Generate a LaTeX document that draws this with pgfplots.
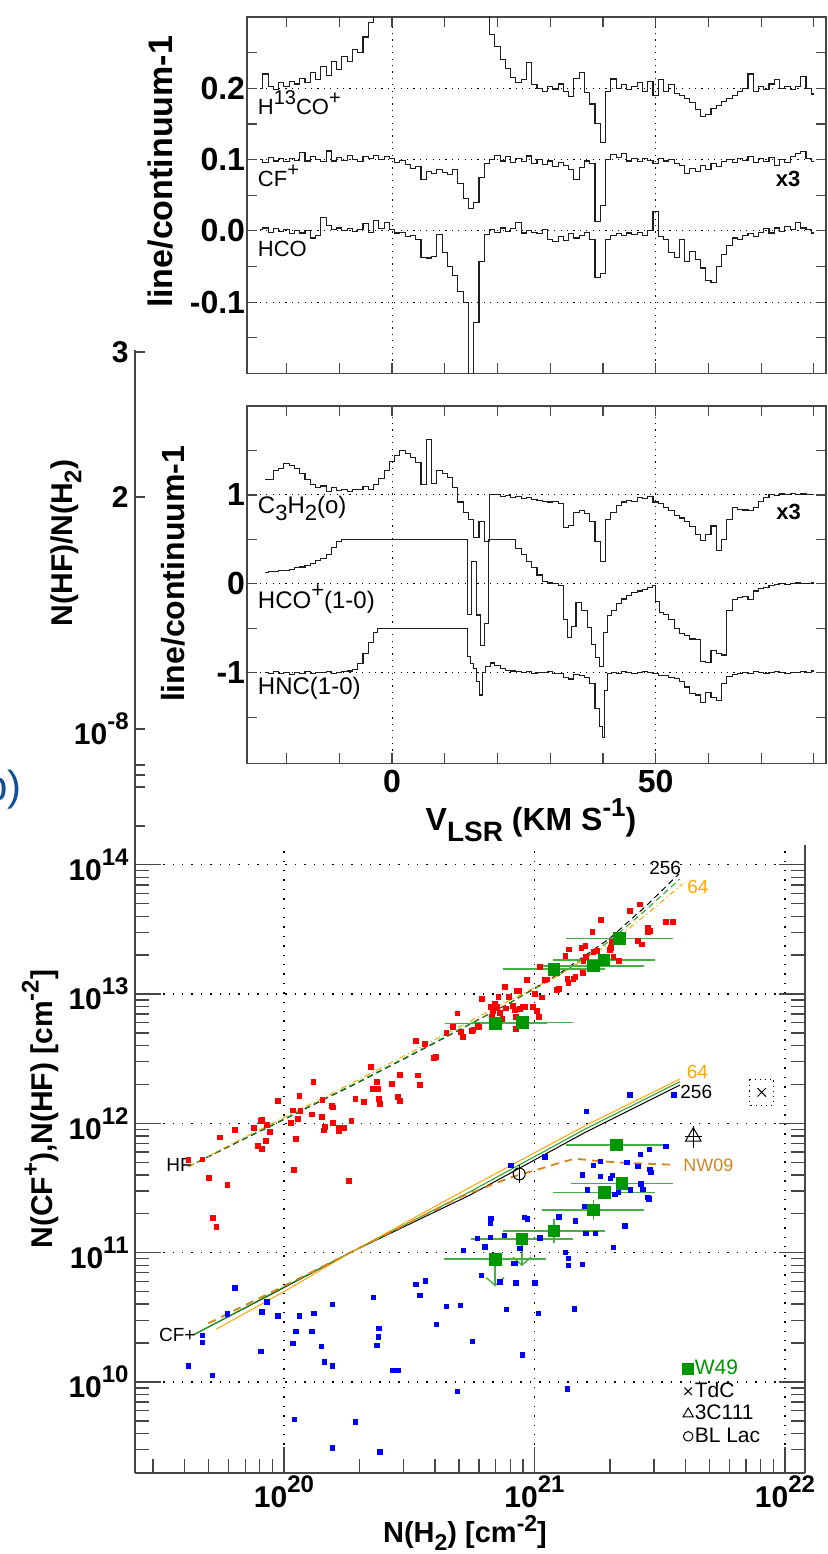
\documentclass[border=0pt]{standalone}
\usepackage{pgfplots}
\pgfplotsset{compat=1.18}
\usepackage{fontspec}
\setmainfont{Liberation Sans}
\usetikzlibrary{arrows.meta}
\definecolor{axgray}{RGB}{70,70,70}
\definecolor{specgray}{RGB}{30,30,30}
\definecolor{hfred}{RGB}{255,0,0}
\definecolor{cfblue}{RGB}{0,0,255}
\definecolor{wgreen}{RGB}{0,150,0}
\definecolor{wbar}{RGB}{70,175,70}
\definecolor{mgreen}{RGB}{30,160,30}
\definecolor{morange}{RGB}{255,165,0}
\definecolor{nwbrown}{RGB}{205,135,30}
\definecolor{bblue}{RGB}{20,80,150}
\newcommand{\fs}[1]{\fontsize{#1}{#1}\selectfont}
\newcommand{\tl}[1]{10\raisebox{0.5em}{\fs{12}#1}}
\pgfplotsset{spec/.style={
  scale only axis, width=289.5pt, xmin=-27.5, xmax=82.3,
  axis line style={axgray, line width=0.8pt},
  tick style={axgray, line width=0.6pt},
  tick align=inside, major tick length=5pt, minor tick length=5pt,
  xtick={0,50}, minor xtick={-20,-10,10,20,30,40,60,70,80},
  grid=major, major grid style={black, line width=0.5pt, dash pattern=on 0.6pt off 2.6pt},
  yticklabel style={font=\bfseries\fs{16}, inner sep=0.8pt},
  xticklabel style={font=\bfseries\fs{16}, inner sep=3pt},
}, sp/.style={const plot mark mid, no markers, specgray, line width=0.55pt}}
\begin{document}
\begin{tikzpicture}
\useasboundingbox (0,0) rectangle (414pt,777pt);
% ---------------- top spectra panel
\begin{axis}[spec, at={(123.5pt,590.25pt)}, anchor=south west, height=178.25pt,
  ymin=-0.2, ymax=0.3, ytick={-0.1,0,0.1,0.2}, yticklabels={-0.1,0.0,0.1,0.2},
  minor ytick={-0.15,-0.05,0.05,0.15,0.25}, xticklabels={}]
\addplot[sp] table[row sep=\\]{x y\\
-25 0.200\\ -24 0.220\\ -23 0.203\\ -22 0.198\\ -21 0.208\\ -20 0.202\\ -19 0.210\\ -18 0.206\\ -17 0.214\\ -16 0.208\\
-15 0.222\\ -14 0.212\\ -13 0.230\\ -12 0.218\\ -11 0.238\\ -10 0.226\\ -9 0.245\\ -8 0.238\\ -7 0.255\\ -6 0.250\\
-5 0.272\\ -4 0.292\\ -3 0.32\\ 18 0.32\\ 19 0.275\\ 20 0.258\\ 21 0.240\\ 22 0.228\\ 23 0.215\\ 24 0.208\\ 25 0.212\\
26 0.236\\ 27 0.205\\ 28 0.200\\ 29 0.196\\ 30 0.203\\ 31 0.199\\ 32 0.206\\ 33 0.195\\ 34 0.188\\ 35 0.214\\
36 0.222\\ 37 0.194\\ 38 0.178\\ 39 0.150\\ 40 0.124\\ 41 0.196\\ 42 0.213\\ 43 0.200\\ 44 0.205\\ 45 0.198\\
46 0.203\\ 47 0.208\\ 48 0.196\\ 49 0.210\\ 50 0.190\\ 51 0.212\\ 52 0.196\\ 53 0.205\\ 54 0.193\\ 55 0.190\\
56 0.186\\ 57 0.180\\ 58 0.170\\ 59 0.160\\ 60 0.163\\ 61 0.172\\ 62 0.176\\ 63 0.182\\ 64 0.186\\ 65 0.190\\
66 0.195\\ 67 0.200\\ 68 0.220\\ 69 0.196\\ 70 0.202\\ 71 0.198\\ 72 0.206\\ 73 0.212\\ 74 0.200\\ 75 0.203\\
76 0.198\\ 77 0.202\\ 78 0.216\\ 79 0.200\\ 80 0.192\\};
\addplot[sp] table[row sep=\\]{x y\\
-25 0.100\\ -24 0.096\\ -23 0.103\\ -22 0.098\\ -21 0.101\\ -20 0.097\\ -19 0.102\\ -18 0.099\\ -17 0.110\\ -16 0.098\\
-15 0.104\\ -14 0.100\\ -13 0.097\\ -12 0.112\\ -11 0.098\\ -10 0.103\\ -9 0.099\\ -8 0.106\\ -7 0.100\\ -6 0.097\\
-5 0.104\\ -4 0.101\\ -3 0.106\\ -2 0.100\\ -1 0.104\\ 0 0.101\\ 1 0.096\\ 2 0.099\\ 3 0.093\\ 4 0.088\\
5 0.090\\ 6 0.072\\ 7 0.083\\ 8 0.080\\ 9 0.086\\ 10 0.082\\ 11 0.079\\ 12 0.086\\ 13 0.066\\ 14 0.045\\
15 0.031\\ 16 0.040\\ 17 0.075\\ 18 0.094\\ 19 0.100\\ 20 0.106\\ 21 0.098\\ 22 0.104\\ 23 0.096\\ 24 0.102\\
25 0.097\\ 26 0.105\\ 27 0.095\\ 28 0.100\\ 29 0.093\\ 30 0.098\\ 31 0.090\\ 32 0.096\\ 33 0.092\\ 34 0.086\\
35 0.072\\ 36 0.089\\ 37 0.098\\ 38 0.094\\ 39 0.013\\ 40 0.036\\ 41 0.100\\ 42 0.107\\ 43 0.103\\ 44 0.109\\
45 0.098\\ 46 0.102\\ 47 0.097\\ 48 0.101\\ 49 0.099\\ 50 0.095\\ 51 0.102\\ 52 0.098\\ 53 0.100\\ 54 0.095\\
55 0.092\\ 56 0.081\\ 57 0.088\\ 58 0.083\\ 59 0.092\\ 60 0.086\\ 61 0.094\\ 62 0.090\\ 63 0.097\\ 64 0.100\\
65 0.096\\ 66 0.102\\ 67 0.099\\ 68 0.104\\ 69 0.096\\ 70 0.101\\ 71 0.097\\ 72 0.103\\ 73 0.092\\ 74 0.100\\
75 0.096\\ 76 0.104\\ 77 0.108\\ 78 0.111\\ 79 0.102\\ 80 0.097\\};
\addplot[sp] table[row sep=\\]{x y\\
-25 0.002\\ -24 0.004\\ -23 -0.002\\ -22 0.003\\ -21 -0.001\\ -20 0.002\\ -19 -0.004\\ -18 0.001\\ -17 -0.003\\ -16 0.000\\
-15 -0.010\\ -14 -0.006\\ -13 0.019\\ -12 0.008\\ -11 0.002\\ -10 0.004\\ -9 0.000\\ -8 0.003\\ -7 -0.001\\ -6 0.002\\
-5 0.010\\ -4 -0.002\\ -3 0.014\\ -2 0.003\\ -1 0.012\\ 0 0.002\\ 1 -0.003\\ 2 -0.002\\ 3 -0.008\\ 4 -0.006\\
5 -0.012\\ 6 -0.037\\ 7 -0.038\\ 8 -0.036\\ 9 -0.005\\ 10 -0.030\\ 11 -0.050\\ 12 -0.062\\ 13 -0.085\\ 14 -0.100\\
15 -0.25\\ 16 -0.128\\ 17 -0.043\\ 18 -0.005\\ 19 0.002\\ 20 -0.002\\ 21 0.004\\ 22 -0.001\\ 23 0.003\\ 24 0.012\\
25 -0.003\\ 26 0.001\\ 27 -0.002\\ 28 -0.004\\ 29 0.002\\ 30 -0.012\\ 31 -0.015\\ 32 -0.008\\ 33 -0.014\\ 34 -0.004\\
35 -0.010\\ 36 -0.006\\ 37 -0.002\\ 38 -0.012\\ 39 -0.066\\ 40 -0.060\\ 41 -0.012\\ 42 -0.006\\ 43 -0.004\\ 44 -0.007\\
45 -0.003\\ 46 -0.005\\ 47 -0.002\\ 48 -0.006\\ 49 0.000\\ 50 0.027\\ 51 -0.008\\ 52 -0.012\\ 53 -0.030\\ 54 -0.037\\
55 -0.012\\ 56 -0.043\\ 57 -0.029\\ 58 -0.040\\ 59 -0.052\\ 60 -0.070\\ 61 -0.072\\ 62 -0.050\\ 63 -0.033\\ 64 -0.020\\
65 -0.010\\ 66 -0.012\\ 67 -0.006\\ 68 -0.004\\ 69 -0.008\\ 70 -0.002\\ 71 0.003\\ 72 -0.003\\ 73 0.004\\ 74 -0.001\\
75 0.006\\ 76 0.002\\ 77 0.012\\ 78 0.004\\ 79 0.002\\ 80 -0.003\\};
\node[anchor=west, font=\fs{11}, inner sep=0pt] at (axis cs:-25.5,0.180) {H\raisebox{0.45em}{\fs{10}13}CO\raisebox{0.45em}{\fs{10}+}};
\node[anchor=west, font=\fs{11}, inner sep=0pt] at (axis cs:-25.5,0.077) {CF\raisebox{0.45em}{\fs{10}+}};
\node[anchor=west, font=\fs{11}, inner sep=0pt] at (axis cs:-25.5,-0.025) {HCO};
\node[font=\bfseries\fs{11}] at (axis cs:75.1,0.073) {x3};
\end{axis}
% ---------------- lower spectra panel
\begin{axis}[spec, at={(123.5pt,395.25pt)}, anchor=south west, height=178.75pt,
  ymin=-2.02, ymax=2.0, ytick={-1,0,1}, yticklabels={-1,0,1},
  minor ytick={-1.5,-0.5,0.5,1.5}, xticklabels={0,50}]
\addplot[sp] table[row sep=\\]{x y\\
-24 1.17\\ -23 1.17\\ -22 1.27\\ -21 1.30\\ -20 1.35\\ -19 1.33\\ -18 1.30\\ -17 1.24\\ -16 1.17\\ -15 1.12\\
-14 1.08\\ -13 1.10\\ -12 1.04\\ -11 1.08\\ -10 1.05\\ -9 1.06\\ -8 1.04\\ -7 1.06\\ -6 1.06\\ -5 1.09\\
-4 1.06\\ -3 1.12\\ -2 1.18\\ -1 1.27\\ 0 1.38\\ 1 1.44\\ 2 1.50\\ 3 1.47\\ 4 1.42\\ 5 1.36\\
6 1.12\\ 7 1.62\\ 8 1.13\\ 9 1.27\\ 10 1.24\\ 11 1.20\\ 12 1.08\\ 13 0.92\\ 14 0.80\\ 15 0.72\\
16 0.52\\ 17 0.70\\ 18 0.48\\ 19 1.00\\ 20 1.00\\ 21 0.98\\ 22 0.99\\ 23 0.97\\ 24 0.98\\ 25 0.96\\
26 0.97\\ 27 0.95\\ 28 0.94\\ 29 0.93\\ 30 0.92\\ 31 0.93\\ 32 0.90\\ 33 0.63\\ 34 0.66\\ 35 0.80\\
36 0.82\\ 37 0.79\\ 38 0.70\\ 39 0.48\\ 40 0.25\\ 41 0.72\\ 42 0.80\\ 43 0.88\\ 44 0.92\\ 45 0.94\\
46 0.93\\ 47 0.97\\ 48 0.96\\ 49 0.98\\ 50 0.92\\ 51 0.90\\ 52 0.86\\ 53 0.82\\ 54 0.77\\ 55 0.74\\
56 0.70\\ 57 0.64\\ 58 0.55\\ 59 0.49\\ 60 0.55\\ 61 0.65\\ 62 0.37\\ 63 0.50\\ 64 0.72\\ 65 0.86\\
66 0.84\\ 67 0.83\\ 68 0.82\\ 69 0.86\\ 70 0.93\\ 71 0.97\\ 72 1.00\\ 73 0.99\\ 74 1.01\\ 75 1.00\\
76 1.02\\ 77 1.00\\ 78 1.01\\ 79 1.00\\ 80 1.00\\};
\addplot[sp] table[row sep=\\]{x y\\
-24 0.13\\ -23 0.135\\ -22 0.14\\ -21 0.15\\ -20 0.155\\ -19 0.165\\ -18 0.18\\ -17 0.19\\ -16 0.21\\ -15 0.23\\
-14 0.26\\ -13 0.29\\ -12 0.33\\ -11 0.41\\ -10 0.48\\ -9 0.5\\ 14 0.5\\ 14.7 -0.34\\ 15.6 0.25\\ 16.3 -0.35\\
17.2 -0.69\\ 18 -0.45\\ 18.7 0.5\\ 23 0.5\\ 24 0.40\\ 25 0.33\\ 26 0.25\\ 27 0.18\\ 28 0.10\\ 29 0.03\\
30 0.01\\ 31 0.0\\ 32 -0.02\\ 33 -0.40\\ 33.7 -0.60\\ 34.3 -0.48\\ 35.5 -0.21\\ 36.5 -0.30\\ 37.5 -0.49\\ 38.3 -0.68\\
39 -0.83\\ 39.7 -0.93\\ 40.5 -0.55\\ 41.3 -0.36\\ 42 -0.30\\ 43 -0.22\\ 44 -0.17\\ 45 -0.13\\ 46 -0.10\\ 47 -0.08\\
48 -0.06\\ 49 -0.04\\ 49.7 -0.02\\ 50.3 -0.20\\ 51 -0.32\\ 52 -0.34\\ 53 -0.40\\ 54 -0.50\\ 55 -0.56\\ 56 -0.58\\
57 -0.62\\ 58 -0.63\\ 59 -0.87\\ 60 -0.88\\ 61 -0.75\\ 62 -0.78\\ 63 -0.80\\ 64 -0.30\\ 65 -0.18\\ 66 -0.15\\
67 -0.14\\ 68 -0.18\\ 69 -0.08\\ 70 -0.05\\ 71 -0.04\\ 72 -0.02\\ 73 -0.01\\ 74 0.0\\ 75 -0.01\\ 76 0.0\\
77 0.01\\ 78 0.0\\ 79 0.0\\ 80 0.01\\};
\addplot[sp] table[row sep=\\]{x y\\
-24 -1.00\\ -23 -1.01\\ -22 -0.99\\ -21 -1.01\\ -20 -1.00\\ -19 -1.02\\ -18 -1.00\\ -17 -1.01\\ -16 -0.99\\ -15 -1.01\\
-14 -1.00\\ -13 -1.00\\ -12 -0.99\\ -11 -1.01\\ -10 -1.00\\ -9 -0.99\\ -8 -0.98\\ -7 -0.96\\ -6 -0.90\\ -5 -0.78\\
-4 -0.66\\ -3 -0.55\\ -2.5 -0.5\\ 14 -0.5\\ 14.6 -0.82\\ 15.2 -0.90\\ 15.8 -0.95\\ 16.3 -1.10\\ 16.8 -1.25\\ 17.4 -1.00\\
18.2 -0.93\\ 19 -0.89\\ 20 -0.92\\ 21 -0.95\\ 22 -0.97\\ 23 -0.98\\ 24 -0.99\\ 25 -1.00\\ 26 -0.99\\ 27 -1.01\\
28 -1.00\\ 29 -1.00\\ 30 -0.99\\ 31 -1.01\\ 32 -1.01\\ 33 -1.05\\ 34 -1.07\\ 35 -1.02\\ 36 -1.03\\ 37 -1.05\\
38 -1.12\\ 39 -1.40\\ 39.6 -1.60\\ 40.1 -1.73\\ 40.6 -1.20\\ 41.2 -1.01\\ 42 -1.00\\ 43 -1.01\\ 44 -0.99\\ 45 -1.00\\
46 -1.01\\ 47 -1.00\\ 48 -0.99\\ 49 -1.00\\ 50 -1.01\\ 51 -1.03\\ 52 -1.03\\ 53 -1.05\\ 54 -1.06\\ 55 -1.10\\
56 -1.16\\ 57 -1.23\\ 58 -1.25\\ 59 -1.33\\ 60 -1.22\\ 61 -1.28\\ 62 -1.31\\ 63 -1.12\\ 64 -1.04\\ 65 -1.02\\
66 -1.01\\ 67 -1.00\\ 68 -1.01\\ 69 -0.99\\ 70 -1.00\\ 71 -1.01\\ 72 -1.00\\ 73 -0.99\\ 74 -1.00\\ 75 -1.01\\
76 -1.00\\ 77 -1.00\\ 78 -0.99\\ 79 -1.00\\ 80 -0.98\\};
\node[anchor=west, font=\fs{12}, inner sep=0pt] at (axis cs:-25.5,0.85) {C\raisebox{-0.3em}{\fs{11}3}H\raisebox{-0.3em}{\fs{11}2}(o)};
\node[anchor=west, font=\fs{12}, inner sep=0pt] at (axis cs:-25.5,-0.17) {HCO\raisebox{0.45em}{\fs{11}+}(1-0)};
\node[anchor=west, font=\fs{12}, inner sep=0pt] at (axis cs:-25.5,-1.17) {HNC(1-0)};
\node[font=\bfseries\fs{11}] at (axis cs:75.2,0.81) {x3};
\end{axis}
% ---------------- phantom axis of an underlying figure
\begin{axis}[at={(67.5pt,354.5pt)}, anchor=south west, scale only axis, width=10pt, height=247.5pt,
  xmin=0, xmax=1, ymin=350, ymax=845, y dir=reverse,
  axis x line=none, axis y line=left, axis line style={-, axgray, line width=0.8pt},
  tick style={axgray, line width=0.6pt}, tick align=inside, major tick length=5pt,
  ytick={352,497,729,765,775,787,826}, yticklabels={3,2,\tl{-8},,,,},
  yticklabel style={font=\bfseries\fs{15}, inner sep=3pt}]
\end{axis}
\node[rotate=90, font=\bfseries\fs{17}] at (80.5pt,691pt) {line/continuum-1};
\node[rotate=90, font=\bfseries\fs{16}] at (86.5pt,490pt) {line/continuum-1};
\node[rotate=90, font=\bfseries\fs{15}] at (33pt,505.5pt) {N(HF)/N(H\raisebox{-0.3em}{\fs{12}2})};
\node[anchor=east, font=\fs{21}, text=bblue, inner sep=0pt] at (11pt,382pt) {b)};
\node[font=\bfseries\fs{16}] at (265.5pt,367pt) {V\raisebox{-0.35em}{\fs{14}LSR} (KM S\raisebox{0.45em}{\fs{13}-1})};
\node[rotate=90, font=\bfseries\fs{15}] at (20pt,222.5pt) {N(CF\raisebox{0.45em}{\fs{12}+}),N(HF) [cm\raisebox{0.45em}{\fs{12}-2}]};
\node[font=\bfseries\fs{14.5}, inner sep=0pt] at (232.5pt,10.5pt) {N(H\raisebox{-0.25em}{\fs{11.5}2}) [cm\raisebox{0.38em}{\fs{11.5}-2}]};
% ---------------- bottom log-log panel (log10 values on linear axes)
\begin{axis}[at={(67.5pt,40.5pt)}, anchor=south west, scale only axis,
  width=335pt, height=314pt,
  xmin=19.405, xmax=22.08, ymin=9.296, ymax=14.153,
  axis x line*=bottom, axis y line*=box,
  axis line style={-, axgray, line width=0.8pt},
  tick style={axgray, line width=0.7pt}, tick align=inside,
  major tick length=13pt, minor tick length=7pt,
  xtick={20,21,22}, xticklabels={\tl{20},\tl{21},\tl{22}},
  minor xtick={19.477,19.602,19.699,19.778,19.845,19.903,19.954,20.301,20.477,20.602,20.699,20.778,20.845,20.903,20.954,21.301,21.477,21.602,21.699,21.778,21.845,21.903,21.954},
  ytick={10,11,12,13,14}, yticklabels={\tl{10},\tl{11},\tl{12},\tl{13},\tl{14}},
  minor ytick={9.301,9.477,9.602,9.699,9.778,9.845,9.903,9.954,10.301,10.477,10.602,10.699,10.778,10.845,10.903,10.954,11.301,11.477,11.602,11.699,11.778,11.845,11.903,11.954,12.301,12.477,12.602,12.699,12.778,12.845,12.903,12.954,13.301,13.477,13.602,13.699,13.778,13.845,13.903,13.954},
  grid=major, major grid style={black, line width=0.6pt, dash pattern=on 0.7pt off 4pt},
  xticklabel style={font=\bfseries\fs{15}, inner sep=1pt},
  yticklabel style={font=\bfseries\fs{15}, inner sep=3pt},
  legend cell align=left,
  legend image code/.code={\draw[#1] plot coordinates {(0pt,0pt)};},
  legend style={at={(0.817,0.183)}, anchor=north west, draw=none, fill=none, font=\fs{10.5}, row sep=1.2pt, inner sep=0pt, nodes={inner sep=0.6pt}},
]
% HF models
\addplot[forget plot, black, line width=0.5pt, dash pattern=on 3pt off 2pt] coordinates {(19.618,11.665) (19.8,11.84) (20.0,12.03) (20.3,12.32) (20.6,12.62) (20.9,12.93) (21.1,13.16) (21.3,13.43) (21.45,13.69) (21.577,13.93)};
\addplot[forget plot, mgreen, line width=0.5pt, dash pattern=on 3pt off 2pt] coordinates {(19.618,11.665) (19.8,11.845) (20.0,12.035) (20.3,12.325) (20.6,12.625) (20.9,12.93) (21.1,13.15) (21.3,13.41) (21.45,13.66) (21.58,13.89)};
\addplot[forget plot, morange, line width=0.5pt, dash pattern=on 3pt off 1.5pt on 0.6pt off 1.5pt] coordinates {(19.618,11.665) (19.8,11.85) (20.0,12.045) (20.3,12.34) (20.6,12.645) (20.9,12.95) (21.1,13.15) (21.3,13.39) (21.45,13.62) (21.59,13.85)};
% CF+ models
\addplot[forget plot, black, line width=0.5pt] coordinates {(19.638,10.364) (20.0,10.73) (20.277,11.013) (20.743,11.446) (21.208,11.936) (21.581,12.297)};
\addplot[forget plot, mgreen, line width=0.5pt] coordinates {(19.638,10.364) (20.0,10.735) (20.277,11.013) (20.743,11.472) (21.208,11.962) (21.581,12.323)};
\addplot[forget plot, morange, line width=0.5pt] coordinates {(19.729,10.408) (20.0,10.699) (20.277,11.013) (20.743,11.506) (21.208,11.988) (21.581,12.343)};
\addplot[forget plot, nwbrown, line width=0.9pt, dash pattern=on 4pt off 3pt] coordinates {(19.698,10.454) (20.0,10.742) (20.277,11.013) (20.703,11.43) (20.914,11.588) (21.034,11.655) (21.102,11.696) (21.162,11.727) (21.235,11.712) (21.341,11.697) (21.474,11.686) (21.554,11.680)};
% HF scatter
\addplot[forget plot, only marks, mark=square*, mark size=1.2pt, hfred, mark options={draw=hfred}] table[row sep=\\]{x y\\
19.618 11.715\\ 19.674 11.722\\ 19.701 11.580\\ 19.715 11.271\\ 19.730 11.201\\ 19.745 11.892\\ 19.774 11.526\\ 19.804 11.951\\
19.879 11.962\\ 19.895 11.828\\ 19.907 12.021\\ 19.913 12.026\\ 19.912 11.800\\ 19.928 11.866\\ 19.931 11.988\\ 19.945 11.936\\
19.975 12.171\\ 20.027 12.001\\ 20.035 12.101\\ 20.040 11.640\\ 20.048 11.877\\ 20.056 12.032\\ 20.061 12.214\\ 20.065 12.096\\
20.111 12.070\\ 20.117 12.323\\ 20.150 12.052\\ 20.153 12.183\\ 20.158 11.946\\ 20.162 11.974\\ 20.192 12.135\\ 20.194 12.124\\
20.194 12.006\\ 20.218 11.962\\ 20.218 11.944\\ 20.241 11.967\\ 20.259 11.555\\ 20.269 12.021\\ 20.285 12.189\\ 20.318 12.166\\
20.346 12.439\\ 20.355 12.264\\ 20.371 12.323\\ 20.376 12.268\\ 20.379 12.189\\ 20.382 12.152\\ 20.432 12.305\\ 20.455 12.204\\
20.462 12.171\\ 20.464 12.377\\ 20.527 12.637\\ 20.535 12.371\\ 20.543 12.295\\ 20.564 12.612\\ 20.599 12.508\\ 20.607 12.516\\
20.648 12.701\\ 20.675 12.746\\ 20.692 12.851\\ 20.705 12.709\\ 20.715 12.666\\ 20.750 12.717\\ 20.756 12.722\\ 20.772 12.758\\
20.778 12.746\\ 20.790 12.960\\ 20.825 12.898\\ 20.829 12.825\\ 20.834 12.869\\ 20.842 12.923\\ 20.850 12.900\\ 20.856 12.980\\
20.862 12.854\\ 20.872 12.810\\ 20.883 13.055\\ 20.886 12.890\\ 20.897 12.975\\ 20.899 12.980\\ 20.914 12.908\\ 20.921 12.875\\
20.925 12.825\\ 20.926 12.730\\ 20.931 13.026\\ 20.939 13.026\\ 20.942 12.887\\ 20.954 12.898\\ 20.962 12.903\\ 20.971 13.109\\
20.995 12.900\\ 21.001 13.003\\ 21.009 12.871\\ 21.019 12.825\\ 21.031 12.975\\ 21.021 13.210\\ 21.042 13.109\\ 21.049 13.114\\
21.089 13.034\\ 21.098 13.039\\ 21.123 13.295\\ 21.131 13.117\\ 21.135 13.088\\ 21.138 13.346\\ 21.155 13.119\\ 21.163 13.130\\
21.187 13.359\\ 21.194 13.163\\ 21.195 13.256\\ 21.203 13.372\\ 21.204 13.289\\ 21.231 13.483\\ 21.235 13.326\\ 21.248 13.336\\
21.264 13.571\\ 21.301 13.341\\ 21.304 13.357\\ 21.309 13.405\\ 21.315 13.289\\ 21.337 13.258\\ 21.382 13.645\\ 21.413 13.413\\
21.422 13.694\\ 21.428 13.384\\ 21.452 13.514\\ 21.454 13.480\\ 21.462 13.488\\ 21.525 13.560\\ 21.554 13.560\\};
% CF+ scatter
\addplot[forget plot, only marks, mark=square*, mark size=1.1pt, cfblue, mark options={draw=cfblue}] table[row sep=\\]{x y\\
19.618 10.124\\ 19.674 10.361\\ 19.674 10.307\\ 19.715 10.049\\ 19.774 10.528\\ 19.804 10.729\\ 19.908 10.237\\ 19.912 10.541\\
19.931 10.619\\ 19.976 10.510\\ 20.036 10.299\\ 20.041 9.712\\ 20.048 10.392\\ 20.061 10.510\\ 20.111 10.392\\ 20.119 10.531\\
20.150 10.273\\ 20.161 10.155\\ 20.194 10.601\\ 20.192 10.124\\ 20.194 9.490\\ 20.285 9.691\\ 20.357 10.655\\ 20.371 10.284\\
20.376 10.348\\ 20.379 10.415\\ 20.382 9.459\\ 20.434 10.090\\ 20.455 10.090\\ 20.527 10.756\\ 20.543 10.671\\ 20.564 10.781\\
20.608 10.446\\ 20.648 10.585\\ 20.692 9.925\\ 20.705 10.590\\ 20.715 11.019\\ 21.321 11.452\\ 21.336 11.467\\ 21.212 11.485\\
21.202 11.356\\ 21.164 11.245\\ 21.097 11.278\\ 21.022 11.114\\ 20.881 11.132\\ 20.825 11.116\\ 20.772 11.111\\ 20.802 11.046\\
20.826 11.263\\ 20.825 11.227\\ 20.959 11.271\\ 20.971 11.261\\ 20.942 11.034\\ 20.921 10.918\\ 20.915 10.918\\ 20.926 10.766\\
20.862 10.773\\ 20.789 10.822\\ 21.001 10.766\\ 21.015 10.531\\ 20.887 10.559\\ 20.753 10.312\\ 20.951 10.209\\ 21.123 11.000\\
21.135 10.954\\ 21.135 10.903\\ 21.192 10.910\\ 21.159 10.564\\ 21.131 9.946\\ 21.206 11.150\\ 21.244 11.147\\ 21.316 11.042\\
21.361 11.206\\ 21.382 11.485\\ 21.425 11.531\\ 21.432 11.490\\ 21.452 11.428\\ 21.457 11.415\\ 21.381 12.220\\ 21.556 12.220\\
21.208 12.094\\ 21.041 11.742\\ 20.905 11.673\\ 21.192 11.603\\ 21.235 11.673\\ 21.264 11.704\\ 21.264 11.591\\ 21.303 11.575\\
21.311 11.599\\ 21.369 11.699\\ 21.413 11.665\\ 21.422 11.758\\ 21.458 11.800\\ 21.461 11.642\\ 21.464 11.619\\ 21.525 11.822\\};
% W49 HF
\addplot[forget plot, only marks, mark=square*, mark size=2.9pt, wgreen,
  error bars/.cd, x dir=both, x explicit, error bar style={wbar, line width=0.8pt}, error mark=none]
  coordinates {(20.845,12.774) +- (0.204,0) (20.951,12.779) +- (0.204,0) (21.077,13.192) +- (0.204,0)
  (21.235,13.217) +- (0.204,0) (21.277,13.264) +- (0.204,0) (21.339,13.431) +- (0.214,0)};
% W49 CF+
\addplot[forget plot, only marks, mark=square*, mark size=2.9pt, wgreen,
  error bars/.cd, x dir=both, x explicit, y dir=both, y explicit, error bar style={wbar, line width=0.8pt}, error mark=none]
  coordinates {(20.843,10.949) +- (0.204,0) (20.950,11.106) +- (0.204,0) (21.078,11.168) +- (0.204,0.094)
  (21.235,11.330) +- (0.204,0.075) (21.279,11.464) +- (0.204,0.05) (21.349,11.534) +- (0.204,0) (21.328,11.833) +- (0.204,0)};
\addplot[forget plot, wbar, line width=0.7pt, -{Straight Barb[length=4pt, width=9pt]}, quiver={u=0, v=-0.21}]
  coordinates {(20.843,10.949) (20.950,11.106)};
% other sources
\addplot[forget plot, black, line width=0.5pt, dash pattern=on 0.6pt off 2pt] coordinates {(21.858,12.343) (21.956,12.343) (21.956,12.142) (21.858,12.142) (21.858,12.343)};
\addplot[forget plot, only marks, mark=x, mark size=3pt, black, line width=0.5pt] coordinates {(21.907,12.24)};
\addplot[forget plot, only marks, mark=triangle, mark size=4.5pt, black, line width=0.5pt,
  error bars/.cd, x dir=both, x explicit, y dir=both, y explicit, error bar style={black, line width=0.5pt}, error mark=none]
  coordinates {(21.634,11.897) +- (0.035,0.085)};
\addplot[forget plot, only marks, mark=o, mark size=3pt, black, line width=0.5pt,
  error bars/.cd, y dir=both, y explicit, error bar style={black, line width=0.5pt}, error mark=none]
  coordinates {(20.939,11.609) +- (0,0.07)};
% labels
\node[anchor=west, font=\fs{9.5}, inner sep=0pt] at (axis cs:21.457,13.973) {256};
\node[anchor=west, font=\fs{9.5}, inner sep=0pt, text=morange] at (axis cs:21.609,13.831) {64};
\node[anchor=west, font=\fs{9.5}, inner sep=0pt, text=morange] at (axis cs:21.607,12.395) {64};
\node[anchor=west, font=\fs{9.5}, inner sep=0pt] at (axis cs:21.581,12.245) {256};
\node[anchor=west, font=\fs{9}, inner sep=0pt, text=nwbrown] at (axis cs:21.593,11.678) {NW09};
\node[anchor=east, font=\fs{9.5}, inner sep=0pt] at (axis cs:19.633,11.678) {HF};
\node[anchor=east, font=\fs{9.5}, inner sep=0pt] at (axis cs:19.648,10.36) {CF+};
% legend
\addlegendimage{only marks, mark=square*, mark size=2.7pt, wgreen}
\addlegendentry{\textcolor{wgreen}{W49}}
\addlegendimage{only marks, mark=x, mark size=2.6pt, black, line width=0.5pt}
\addlegendentry{TdC}
\addlegendimage{only marks, mark=triangle, mark size=3pt, black, line width=0.5pt}
\addlegendentry{3C111}
\addlegendimage{only marks, mark=o, mark size=2.4pt, black, line width=0.5pt}
\addlegendentry{BL Lac}
\end{axis}
\end{tikzpicture}
\end{document}
